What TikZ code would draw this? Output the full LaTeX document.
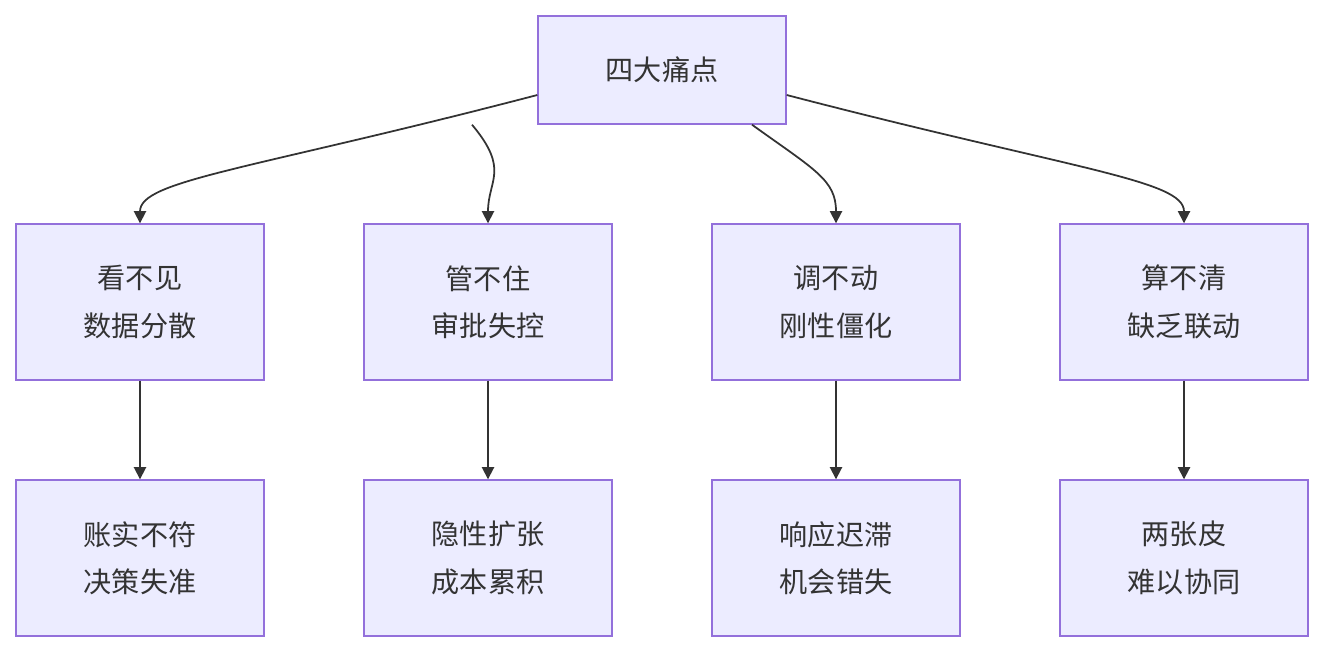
\documentclass[tikz,border=0pt]{standalone}
\usepackage{fontspec}
\setmainfont{Noto Sans CJK SC}
\usetikzlibrary{arrows.meta}
\definecolor{boxfill}{HTML}{ECECFF}
\definecolor{boxline}{HTML}{9370DB}
\definecolor{ink}{HTML}{333333}
\tikzset{
  box/.style={draw=boxline, fill=boxfill, line width=0.8pt, text=ink,
    minimum width=4.96cm, minimum height=3.12cm, align=center,
    font=\fontsize{16}{27}\selectfont},
  link/.style={draw=ink, line width=1pt, -{Triangle[length=7pt,width=7pt]}}
}
\begin{document}
\begin{tikzpicture}
    \useasboundingbox (0,0) rectangle (26.48,-13.04);
    \node[box, minimum height=2.16cm] (top) at (13.24,-1.4) {四大痛点};
    \node[box] (see) at (2.8,-6.04) {看不见\\数据分散};
    \node[box] (ctrl) at (9.76,-6.04) {管不住\\审批失控};
    \node[box] (adj) at (16.72,-6.04) {调不动\\刚性僵化};
    \node[box] (calc) at (23.68,-6.04) {算不清\\缺乏联动};
    \node[box] (seeb) at (2.8,-11.16) {账实不符\\决策失准};
    \node[box] (ctrlb) at (9.76,-11.16) {隐性扩张\\成本累积};
    \node[box] (adjb) at (16.72,-11.16) {响应迟滞\\机会错失};
    \node[box] (calcb) at (23.68,-11.16) {两张皮\\难以协同};
    \draw[link] ([yshift=-0.5cm]top.west)
      .. controls (5,-3.4) and (2.8,-3.6) .. (see.north);
    \draw[link] ([xshift=-3.8cm]top.south)
      .. controls (10.2,-3.4) and (9.76,-3.6) .. (ctrl.north);
    \draw[link] ([xshift=1.8cm]top.south)
      .. controls (16.3,-3.4) and (16.72,-3.6) .. (adj.north);
    \draw[link] ([yshift=-0.5cm]top.east)
      .. controls (21.5,-3.4) and (23.68,-3.6) .. (calc.north);
    \draw[link] (see) -- (seeb);
    \draw[link] (ctrl) -- (ctrlb);
    \draw[link] (adj) -- (adjb);
    \draw[link] (calc) -- (calcb);
\end{tikzpicture}
\end{document}
